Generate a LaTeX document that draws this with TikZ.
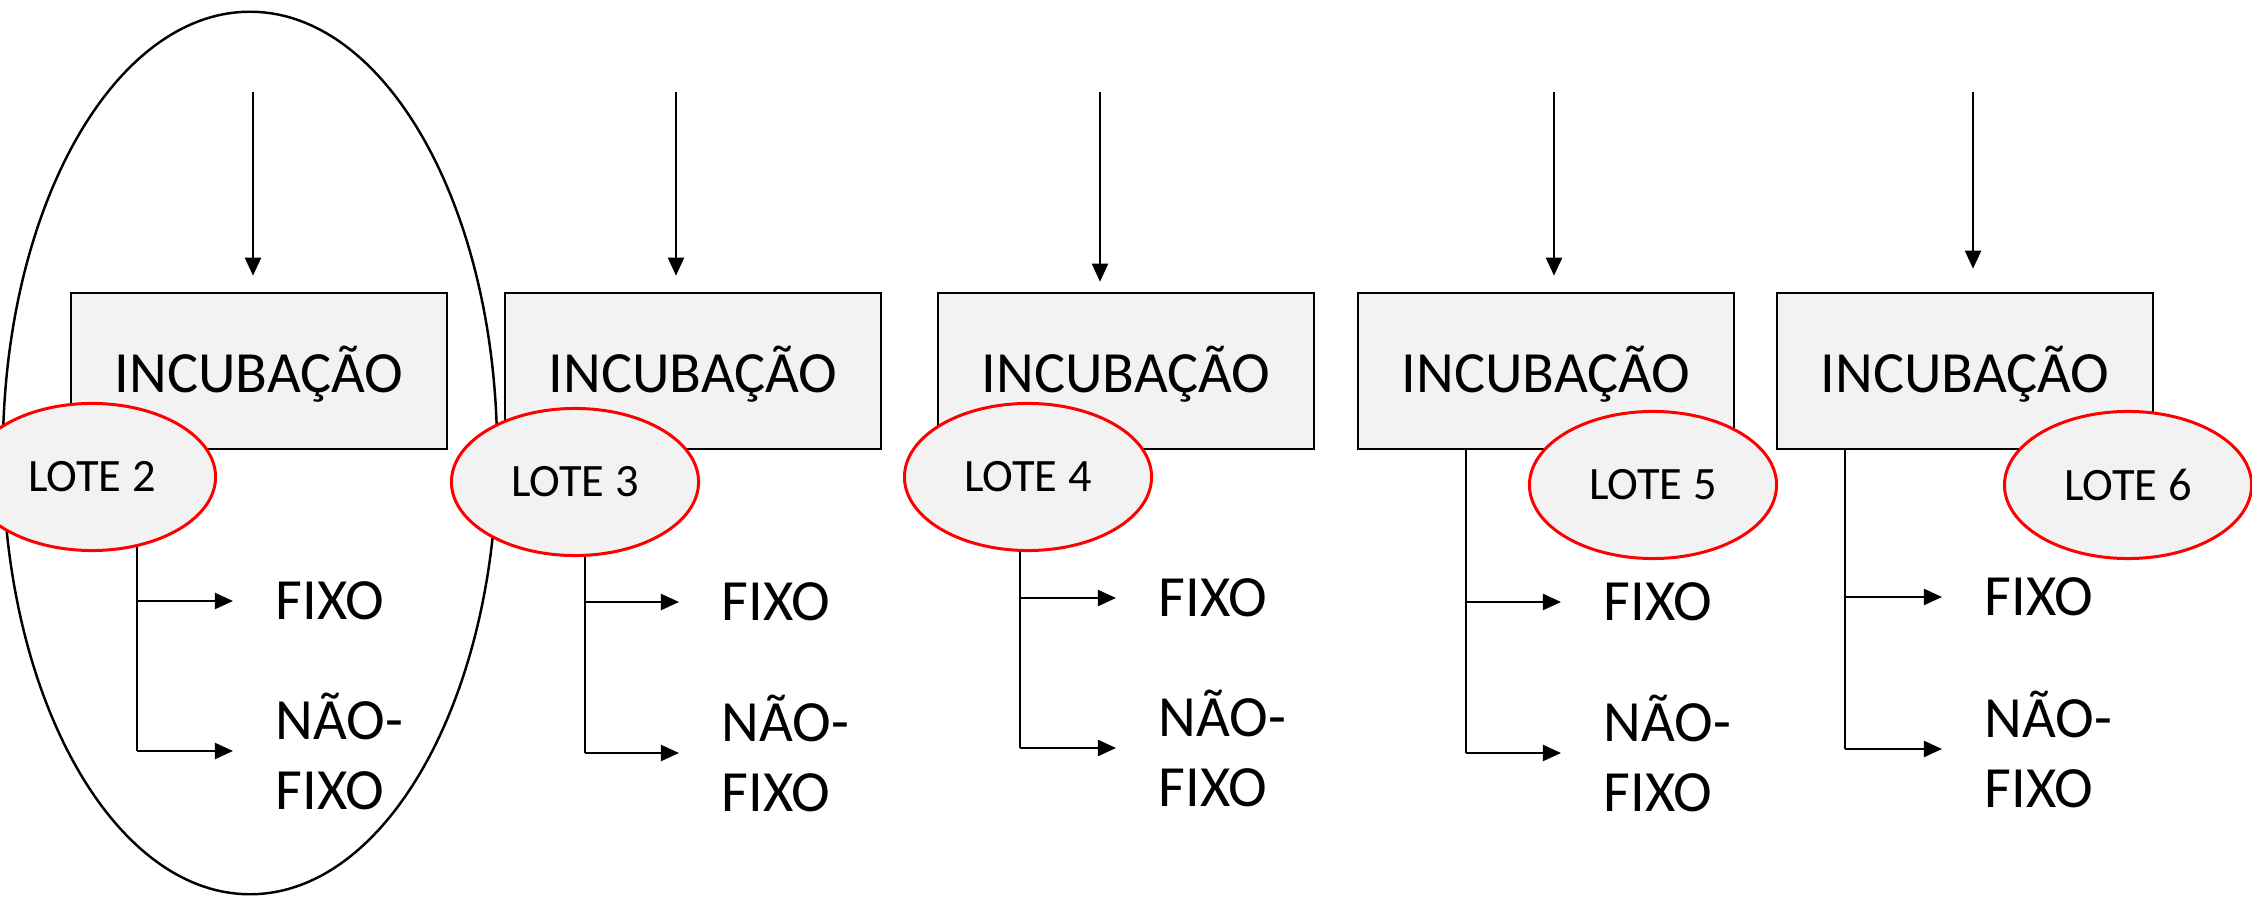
\documentclass[tikz,border=0pt]{standalone}
\usepackage{fontspec}
\setmainfont{Carlito}
\usetikzlibrary{arrows.meta,shapes.geometric}
\definecolor{fundo}{HTML}{F2F2F2}
\definecolor{vermelho}{HTML}{FF0000}
\tikzset{
	caixa/.style={draw, line width=0.7pt, fill=fundo, minimum width=3.76cm, minimum height=1.56cm, inner sep=0pt, text height=15pt, font=\fontsize{16.6}{20}\selectfont},
	lote/.style={draw=vermelho, line width=0.85pt, fill=fundo, ellipse, minimum width=2.47cm, minimum height=1.47cm, inner sep=0pt, font=\fontsize{13.2}{16}\selectfont},
	saida/.style={anchor=west, inner sep=0pt, align=left, font=\fontsize{16.6}{19.9}\selectfont},
	seta/.style={-{Triangle[length=1.8mm,width=1.6mm]}, line width=0.6pt},
	ramo/.style={line width=0.4pt}
}
\begin{document}
\begin{tikzpicture}[x=0.01cm, y=-0.01cm]
	\useasboundingbox (0,0) rectangle (2252,898);
	% grupo do lote 2
	\node [draw, ellipse, line width=0.7pt, minimum width=4.94cm, minimum height=8.82cm] (grupo) at (250,453) {};
	\foreach \n/\bx/\ax/\g/\lx/\ly/\vx/\tx/\fy/\ry in {
			2/259/253/0.16/92/477/137/275/601/751,
			3/693/676/0.16/575/482/585/721/602/753,
			4/1126/1100/0.10/1028/477/1020/1158/598/748,
			5/1546/1554/0.16/1653/485/1466/1603/602/753,
			6/1965/1973/0.23/2128/485/1845/1984/597/749}
	{
		\node [caixa] (inc\n) at (\bx,371) {INCUBAÇÃO};
		\coordinate (e\n) at (\ax,92);
		\draw [seta, shorten >=\g cm] (e\n) -- (e\n |- inc\n.north);
		\node [saida] (fixo\n) at (\tx,\fy) {FIXO};
		\node [saida] (nfixo\n) at (\tx,\ry) {NÃO-\\FIXO};
		\coordinate (r\n) at (\vx,\ry);
		\draw [ramo] (inc\n.south -| r\n) -- (r\n);
		\draw [seta, shorten >=0.42cm] (r\n |- fixo\n) -- (fixo\n);
		\draw [seta, shorten >=0.42cm] (r\n) -- (r\n -| nfixo\n.west);
		\node [lote] (lote\n) at (\lx,\ly) {LOTE \n};
	}
\end{tikzpicture}
\end{document}
